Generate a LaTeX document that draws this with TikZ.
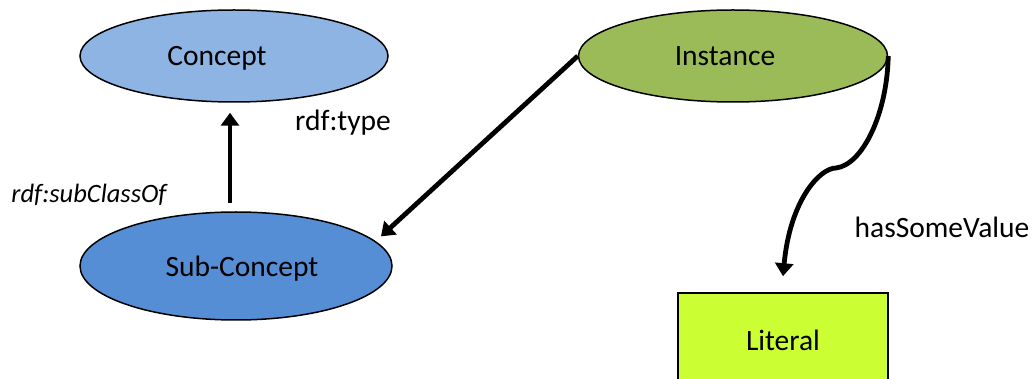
\documentclass[tikz,border=0pt]{standalone}
\usepackage{fontspec}
\setmainfont{Carlito}
\usetikzlibrary{shapes.geometric,arrows.meta}
\definecolor{conceptblue}{HTML}{8EB4E3}
\definecolor{subblue}{HTML}{558ED5}
\definecolor{instgreen}{HTML}{9BBB59}
\definecolor{litgreen}{HTML}{CCFF33}
\tikzset{
  every node/.style={font=\fontsize{29.5}{33}\selectfont, text=black},
  oval/.style={ellipse, draw=black, line width=1.5pt, inner sep=0pt, text depth=0pt},
  litbox/.style={rectangle, draw=black, line width=1.5pt, fill=litgreen, text depth=0pt,
                 minimum width=210pt, minimum height=96pt, inner sep=0pt},
  arr/.style={line width=4.8pt, -{Triangle[length=13pt,width=18pt]}},
  edgelabel/.style={inner sep=0pt}
}
\begin{document}
\begin{tikzpicture}[x=1pt,y=-1pt]
\useasboundingbox (0,0) rectangle (1034,379);
\clip (0,0) rectangle (1034,379);

% classes and individuals
\node[oval, fill=conceptblue, minimum width=308pt, minimum height=92pt]
  (concept) at (234,56) {Concept\hspace*{34pt}};
\node[oval, fill=instgreen, minimum width=309pt, minimum height=92pt]
  (inst) at (733,56) {Instance\hspace*{16pt}};
\node[oval, fill=subblue, minimum width=312pt, minimum height=108pt]
  (sub) at (236,266) {\hspace*{12pt}Sub-Concept};
\node[litbox] (lit) at (783,341) {\raisebox{2pt}{Literal}};

% relations
\draw[arr] ([xshift=-6pt,yshift=8pt]sub.north) -- ([xshift=-4pt,yshift=-10pt]concept.south);
\draw[arr] (inst.west) -- ([shift={(8pt,3pt)}]sub.11);
\draw[arr] (inst.east) .. controls (887,115) and (862,165) .. (836,168)
           .. controls (820,168) and (790,200) .. ([yshift=16pt]lit.north);

% labels
\node[edgelabel] (typelbl) at (343,123) {rdf:type};
\node[edgelabel, font=\fontsize{26.5}{30}\selectfont\itshape] (subcllbl) at (89,195) {rdf:subClassOf};
\node[edgelabel] (hasval) at (942,227) {hasSomeValue};
\end{tikzpicture}
\end{document}
